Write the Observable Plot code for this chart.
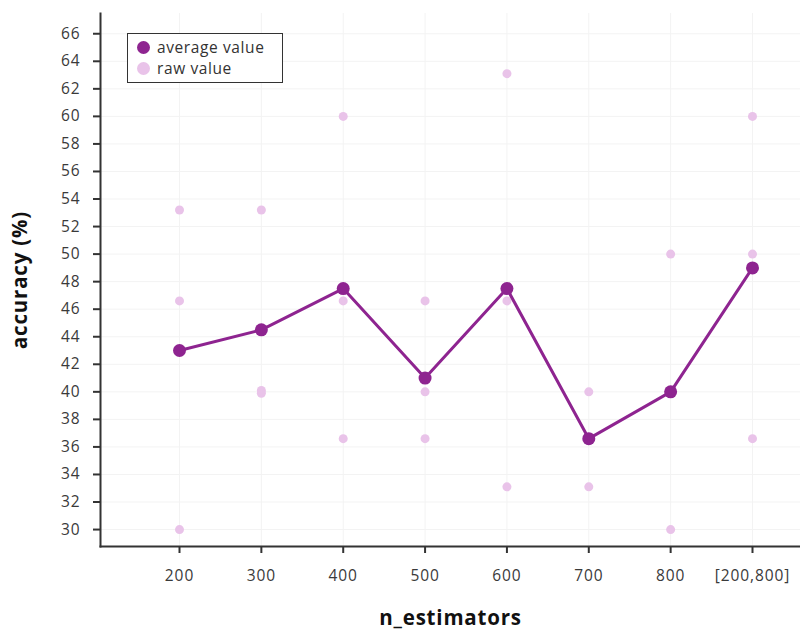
<!DOCTYPE html>
<html><head><meta charset="utf-8">
<script src="https://cdn.jsdelivr.net/npm/d3@7"></script>
<script src="https://cdn.jsdelivr.net/npm/@observablehq/plot@0.6"></script>
<style>
body{margin:0;background:#fff;font-family:"Open Sans",sans-serif;}
#wrap{position:relative;width:800px;height:630px;overflow:hidden;}
#legend{position:absolute;left:127px;top:33px;width:156px;height:50px;border:1.3px solid #333;background:#fff;font-size:15.5px;letter-spacing:0.6px;color:#333;box-sizing:border-box;padding:3px 0 0 9px;line-height:21px;}
#legend .sw{display:inline-block;width:13px;height:13px;border-radius:50%;margin-right:7px;vertical-align:-1px;}
svg text{letter-spacing:0.9px;}
g[aria-label="y-axis label"] text, g[aria-label="x-axis label"] text{font-weight:bold;font-size:20.5px;letter-spacing:0.8px;fill:#111;}
</style></head>
<body><div id="wrap"><div id="legend"></div></div>
<script>
const categories = ["200","300","400","500","600","700","800","[200,800]"];
const averageValues = [43.0, 44.5, 47.5, 41.0, 47.5, 36.6, 40.0, 49.0];
const rawCategories = ["200","200","200","300","300","300","400","400","400","500","500","500","600","600","600","700","700","700","800","800","800","[200,800]","[200,800]","[200,800]"];
const rawValues = [53.2,46.6,30.0, 53.2,40.1,39.9, 60.0,46.6,36.6, 46.6,40.0,36.6, 63.1,46.6,33.1, 40.0,33.1,36.6, 50.0,30.0,40.0, 60.0,50.0,36.6];
const yTicks = d3.range(30, 67, 2);
const legendLabels = ["average value", "raw value"];
const avgColor = "#8e2490";
const rawColor = "#e9c3e9";

const avg = categories.map((c, i) => ({c, v: averageValues[i]}));
const raw = rawCategories.map((c, i) => ({c, v: rawValues[i]}));

const chart = Plot.plot({
  width: 800, height: 630,
  marginLeft: 100, marginRight: 0, marginTop: 13, marginBottom: 84,
  style: {fontFamily: "'Open Sans', sans-serif", fontSize: "15.5px", color: "#3a3a3a", background: "#fff"},
  x: {type: "point", domain: categories, range: [179, 752], padding: 0, round: false},
  y: {domain: [28.77, 67.47]},
  marks: [
    Plot.gridY(yTicks, {stroke: "#f3f3f3", strokeOpacity: 1, strokeWidth: 1}),
    Plot.gridX(categories, {stroke: "#f3f3f3", strokeOpacity: 1, strokeWidth: 1}),
    Plot.axisY(yTicks, {tickSize: 7, tickPadding: 13, strokeWidth: 2, stroke: "#333", label: "accuracy (%)", labelAnchor: "center", labelArrow: "none", labelOffset: 88}),
    Plot.axisX(categories, {tickSize: 7, tickPadding: 16, strokeWidth: 2, stroke: "#333", label: "n_estimators", labelAnchor: "center", labelArrow: "none", labelOffset: 78}),
    Plot.frame({anchor: "left", stroke: "#333", strokeWidth: 2}),
    Plot.frame({anchor: "bottom", stroke: "#333", strokeWidth: 2}),
    Plot.dot(raw, {x: "c", y: "v", r: 4.5, fill: rawColor, stroke: "none"}),
    Plot.line(avg, {x: "c", y: "v", stroke: avgColor, strokeWidth: 3}),
    Plot.dot(avg, {x: "c", y: "v", r: 6.5, fill: avgColor, stroke: "none"})
  ]
});
document.getElementById("wrap").prepend(chart);
const leg = document.getElementById("legend");
[avgColor, rawColor].forEach((col, i) => {
  const row = document.createElement("div");
  row.innerHTML = `<span class="sw" style="background:${col}"></span>${legendLabels[i]}`;
  leg.appendChild(row);
});
</script></body></html>
